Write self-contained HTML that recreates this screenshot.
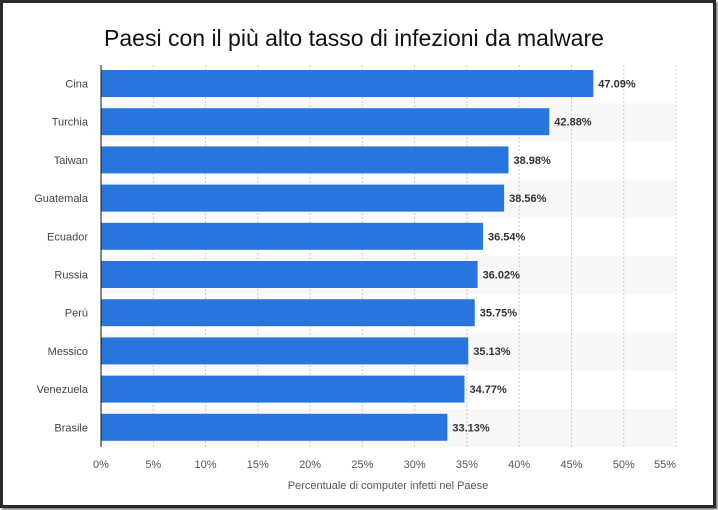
<!DOCTYPE html>
<html><head><meta charset="utf-8"><style>
html,body{margin:0;padding:0;background:#fff;}
#frame{position:absolute;left:0;top:0;width:710px;height:502px;border:3px solid #2a2a2a;box-shadow:2px 2px 2px #888;background:#fff;}
svg{position:absolute;left:0;top:0;}
text{font-family:"Liberation Sans",sans-serif;}
</style></head><body>
<div id="frame"></div>
<svg id="chart" width="718" height="510">
<text x="354" y="46" text-anchor="middle" font-size="23" fill="#111">Paesi con il più alto tasso di infezioni da malware</text>
<text x="388" y="489" text-anchor="middle" font-size="11" fill="#555">Percentuale di computer infetti nel Paese</text>
</svg>
<script>
const categories=["Cina","Turchia","Taiwan","Guatemala","Ecuador","Russia","Perù","Messico","Venezuela","Brasile"];
const values=[47.09,42.88,38.98,38.56,36.54,36.02,35.75,35.13,34.77,33.13];
const ticks=[0,5,10,15,20,25,30,35,40,45,50,55];
const svg=document.getElementById('chart');
const NS='http://www.w3.org/2000/svg';
const x0=101,x1=676,xmax=55,yTop=65,yBot=447;
const xs=v=>x0+(v/xmax)*(x1-x0);
const rowH=(yBot-yTop)/categories.length;
function mk(t,a){const e=document.createElementNS(NS,t);for(const k in a)e.setAttribute(k,a[k]);svg.appendChild(e);return e;}
categories.forEach((c,i)=>{if(i%2==1){const r=mk('rect',{x:x0,y:yTop+i*rowH,width:x1-x0,height:rowH,fill:'#f8f8f8'});

}});
ticks.forEach(t=>{if(t===0)return;const l=mk('line',{x1:xs(t),x2:xs(t),y1:yTop,y2:yBot,stroke:'#ccc','stroke-dasharray':'2,2'});

});
ticks.forEach(t=>{const tx=mk('text',{x:xs(t),y:468,'text-anchor':t===55?'end':'middle','font-size':11,fill:'#555'});tx.textContent=t+'%';

});
categories.forEach((c,i)=>{const y=yTop+i*rowH;
const b=mk('rect',{x:x0,y:y+5,width:xs(values[i])-x0,height:27,fill:'#2876dd'});


const v=mk('text',{x:xs(values[i])+5,y:y+22.5,'font-size':11,'font-weight':'bold',fill:'#333'});v.textContent=values[i].toFixed(2)+'%';


const l=mk('text',{x:88,y:y+22.5,'text-anchor':'end','font-size':11,fill:'#444'});l.textContent=c;

});
const ax=mk('line',{x1:x0,x2:x0,y1:yTop,y2:yBot,stroke:'#111','stroke-width':1});


</script>
</body></html>
